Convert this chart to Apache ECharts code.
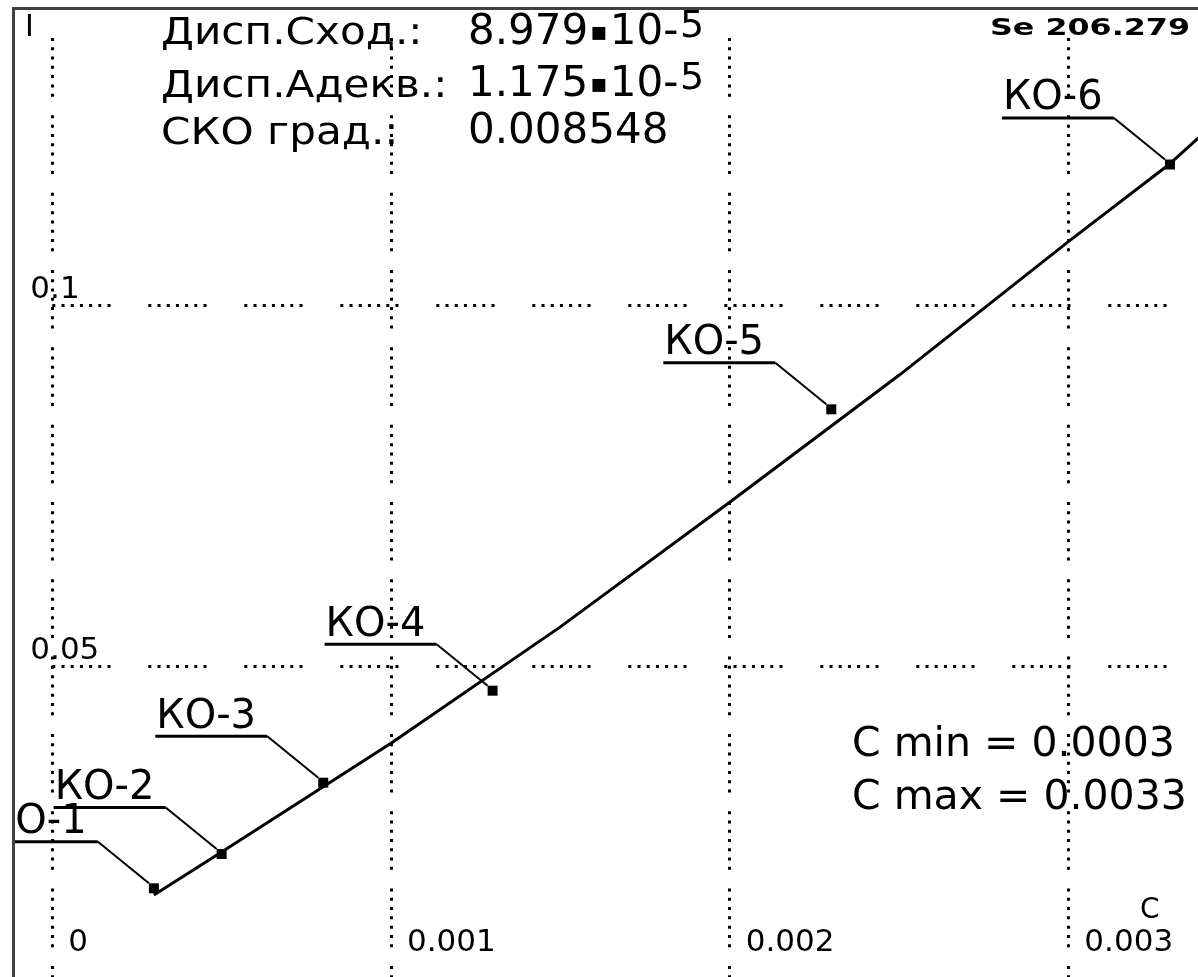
<!DOCTYPE html>
<html><head><meta charset="utf-8">
<script src="https://cdn.jsdelivr.net/npm/echarts@6/dist/echarts.min.js"></script>
<style>html,body{margin:0;padding:0;background:#fff;overflow:hidden}#chart{width:1198px;height:977px}</style>
</head><body><div id="chart"></div>
<script>
// ---- data ----
const sampleNames = ['КО-1', 'КО-2', 'КО-3', 'КО-4', 'КО-5', 'КО-6'];
const sampleC = [0.0003, 0.0005, 0.0008, 0.0013, 0.0023, 0.0033];
const sampleI = [0.01921, 0.02396, 0.03384, 0.04658, 0.08555, 0.11946];
const fitC = [0.0003, 0.0005, 0.001, 0.0015, 0.002, 0.0025, 0.003, 0.0033, 0.0034];
const fitI = [0.01828, 0.02424, 0.03929, 0.05542, 0.07267, 0.09026, 0.10877, 0.11957, 0.12382];
const statLabels = ['Дисп.Сход.:', 'Дисп.Адекв.:', 'СКО град.:'];
const statMantissas = ['8.979', '1.175', '0.008548'];
const statPowers = ['10-', '10-', ''];
const statExponents = ['5', '5', ''];
const seText = 'Se 206.279';
const rangeTexts = ['C min = 0.0003', 'C max = 0.0033'];
const xName = 'C';
const yName = 'I';
const xTickStep = 0.001;
const yTickStep = 0.05;

// ---- styles / layout ----
const FONT = 'DejaVu Sans';
function dots(n, dot, gap, lastGap) {
  const a = [];
  for (let i = 0; i < n; i++) { a.push(dot); a.push(i === n - 1 ? lastGap : gap); }
  return a;
}
const vDash = dots(7, 3, 6.27, 18.7);
const hDash = dots(7, 3, 6.2, 37.8);

const chart = echarts.init(document.getElementById('chart'), null, {renderer: 'canvas'});

function labelItem(params, api) {
  const p = api.coord([api.value(0), api.value(1)]);
  const name = sampleNames[params.dataIndex];
  const uy = p[1] - 46.5;
  return {
    type: 'group',
    children: [
      {type: 'text', x: p[0] - 167, y: uy - 39,
        style: {text: name, font: '40px "DejaVu Sans"', fill: '#000', align: 'left', verticalAlign: 'top'}},
      {type: 'line', shape: {x1: p[0] - 168, y1: uy, x2: p[0] - 56, y2: uy}, style: {stroke: '#000', lineWidth: 3}},
      {type: 'line', shape: {x1: p[0] - 56, y1: uy, x2: p[0] - 5, y2: p[1] - 5}, style: {stroke: '#000', lineWidth: 2}}
    ]
  };
}

const texts = [];
const labelTop = [16, 69, 116];
const valueTop = [12, 64.5, 111.5];
const expTop = [8, 60];
statLabels.forEach((t, i) => {
  texts.push({type: 'text', x: 161, y: labelTop[i], z: 50, scaleX: 1.14,
    style: {text: t, font: '37px "DejaVu Sans"', fill: '#000', align: 'left', verticalAlign: 'top'}});
  const val = statPowers[i]
    ? '{a|' + statMantissas[i] + '}{b|▪}{a|' + statPowers[i] + '}'
    : '{a|' + statMantissas[i] + '}';
  texts.push({type: 'text', x: 468, y: valueTop[i], z: 50,
    style: {text: val, fill: '#000', align: 'left', verticalAlign: 'top',
      rich: {a: {fontFamily: FONT, fontSize: 42, color: '#000'}, b: {fontFamily: FONT, fontSize: 26, color: '#000', padding: [0, 2, 0, 2]}}}});
  if (statExponents[i]) {
    texts.push({type: 'text', x: 680, y: expTop[i], z: 50,
      style: {text: statExponents[i], font: '38px "DejaVu Sans"', fill: '#000', align: 'left', verticalAlign: 'top'}});
  }
});
texts.push({type: 'text', x: 990, y: 18, z: 50, scaleX: 1.38,
  style: {text: seText, font: 'bold 23px "DejaVu Sans"', fill: '#000', align: 'left', verticalAlign: 'top'}});
rangeTexts.forEach((t, i) => {
  texts.push({type: 'text', x: 852, y: 725 + i * 53, z: 50,
    style: {text: t, font: '41px "DejaVu Sans"', fill: '#000', align: 'left', verticalAlign: 'top'}});
});
texts.push({type: 'text', x: 1140, y: 897, z: 50,
  style: {text: xName, font: '28px "DejaVu Sans"', fill: '#000', align: 'left', verticalAlign: 'top'}});
texts.push({type: 'text', x: 25, y: 13, z: 50,
  style: {text: yName, font: '30px "DejaVu Sans"', fill: '#000', align: 'left', verticalAlign: 'top'}});

const option = {
  animation: false,
  backgroundColor: '#ffffff',
  grid: {left: 52.3, top: -56, width: 1185.4, height: 1083, containLabel: false, outerBoundsMode: 'none'},
  xAxis: {
    type: 'value', min: 0, max: 0.0035, interval: xTickStep,
    axisLine: {show: false}, axisTick: {show: false},
    axisLabel: {inside: true, margin: 69, align: 'left', verticalAlign: 'bottom', padding: [0, 0, 0, 16],
      fontFamily: FONT, fontSize: 31, color: '#000', showMaxLabel: false},
    splitLine: {show: true, showMaxLine: false, lineStyle: {color: '#000', width: 3, type: vDash, dashOffset: 60.6}}
  },
  yAxis: {
    type: 'value', min: 0, max: 0.15, interval: yTickStep,
    axisLine: {show: false}, axisTick: {show: false},
    axisLabel: {margin: 22, align: 'left', verticalAlign: 'bottom', fontFamily: FONT, fontSize: 31, color: '#000',
      showMinLabel: false, showMaxLabel: false},
    splitLine: {show: true, lineStyle: {color: '#000', width: 3, type: hDash, dashOffset: 0}}
  },
  series: [
    {type: 'line', data: fitC.map((c, i) => [c, fitI[i]]), showSymbol: false, symbol: 'none',
      lineStyle: {color: '#000', width: 3}, z: 3, silent: true},
    {type: 'scatter', data: sampleC.map((c, i) => [c, sampleI[i]]), symbol: 'rect', symbolSize: 10,
      itemStyle: {color: '#000', opacity: 1}, z: 4, silent: true},
    {type: 'custom', data: sampleC.map((c, i) => [c, sampleI[i]]), renderItem: labelItem, z: 5, silent: true}
  ],
  graphic: {elements: [
    {type: 'rect', shape: {x: 0, y: 0, width: 1198, height: 37}, style: {fill: '#fff'}, z: 40},
    {type: 'rect', shape: {x: 0, y: 0, width: 12, height: 977}, style: {fill: '#fff'}, z: 100},
    {type: 'rect', shape: {x: 12, y: 7, width: 3, height: 970}, style: {fill: '#404040'}, z: 101},
    {type: 'rect', shape: {x: 12, y: 7, width: 1186, height: 3}, style: {fill: '#404040'}, z: 101}
  ].concat(texts)}
};
chart.setOption(option);
</script>
</body></html>
